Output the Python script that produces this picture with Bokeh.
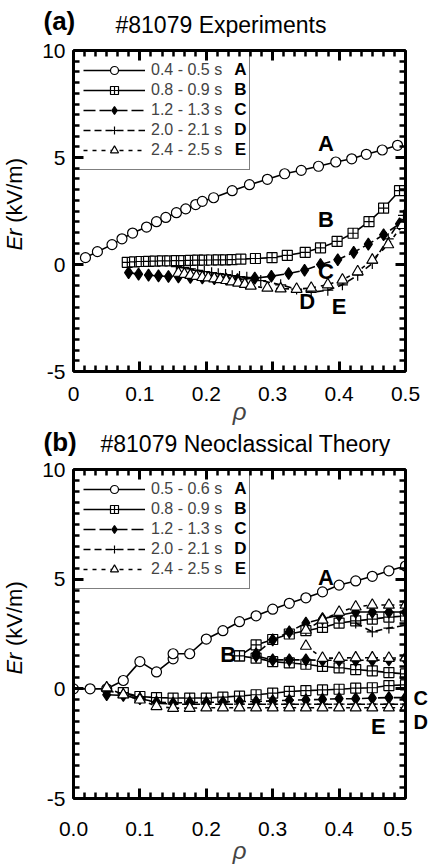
import math
from bokeh.plotting import figure
from bokeh.models import FixedTicker, LinearAxis, Range1d, Legend, LegendItem
from bokeh.layouts import column, row
from bokeh.core.properties import value
from bokeh.embed import file_html
from bokeh.resources import INLINE

FONT = "Liberation Sans"

# ---------------- data : panel (a) experiments ----------------
a_rho_A = [0.018, 0.036, 0.058, 0.073, 0.089, 0.110, 0.125, 0.139, 0.155, 0.169, 0.184, 0.194,
           0.211, 0.239, 0.265, 0.292, 0.318, 0.343, 0.369, 0.395, 0.419, 0.441, 0.465, 0.488]
a_er_A = [0.32, 0.60, 0.93, 1.20, 1.47, 1.75, 2.00, 2.20, 2.42, 2.60, 2.80, 2.95,
          3.12, 3.45, 3.73, 3.98, 4.24, 4.40, 4.59, 4.79, 4.94, 5.15, 5.35, 5.57]

a_rho_B = [0.081, 0.092, 0.102, 0.113, 0.123, 0.134, 0.145, 0.155, 0.166, 0.176, 0.187, 0.197,
           0.208, 0.218, 0.229, 0.239, 0.252, 0.274, 0.299, 0.322, 0.349, 0.372, 0.397, 0.421,
           0.445, 0.467, 0.491]
a_er_B = [0.10, 0.12, 0.14, 0.15, 0.16, 0.17, 0.17, 0.18, 0.18, 0.19, 0.20, 0.20,
          0.21, 0.22, 0.22, 0.23, 0.25, 0.28, 0.32, 0.43, 0.57, 0.78, 1.08, 1.46,
          2.00, 2.63, 3.45]

a_rho_C = [0.083, 0.098, 0.113, 0.128, 0.143, 0.158, 0.176, 0.194, 0.212, 0.230, 0.247,
           0.273, 0.298, 0.324, 0.348, 0.372, 0.398, 0.422, 0.444, 0.467, 0.491]
a_er_C = [-0.38, -0.45, -0.50, -0.53, -0.56, -0.58, -0.60, -0.63, -0.66, -0.68, -0.70,
          -0.64, -0.55, -0.42, -0.27, 0.00, 0.22, 0.57, 0.95, 1.39, 1.90]

a_rho_D = [0.155, 0.166, 0.176, 0.187, 0.197, 0.208, 0.218, 0.229, 0.239, 0.250, 0.261,
           0.282, 0.312, 0.336, 0.358, 0.383, 0.405, 0.428, 0.450, 0.474, 0.497]
a_er_D = [-0.10, -0.15, -0.20, -0.27, -0.33, -0.38, -0.43, -0.47, -0.52, -0.56, -0.60,
          -0.75, -0.95, -1.15, -1.30, -1.20, -0.95, -0.50, 0.05, 1.20, 2.30]

a_rho_E = [0.158, 0.167, 0.176, 0.185, 0.194, 0.203, 0.212, 0.221, 0.230, 0.239, 0.248,
           0.258, 0.267, 0.292, 0.312, 0.336, 0.358, 0.383, 0.405, 0.428, 0.450, 0.474, 0.495]
a_er_E = [-0.40, -0.45, -0.50, -0.55, -0.60, -0.62, -0.66, -0.70, -0.74, -0.80, -0.86,
          -0.92, -1.00, -1.10, -1.13, -1.15, -1.10, -0.94, -0.72, -0.33, 0.21, 0.93, 1.83]

# ---------------- data : panel (b) neoclassical theory ----------------
b_rho_A = [0.0, 0.025, 0.05, 0.075, 0.1, 0.125, 0.15, 0.15, 0.175, 0.2, 0.225, 0.25, 0.275,
           0.3, 0.325, 0.35, 0.375, 0.4, 0.425, 0.45, 0.475, 0.5]
b_er_A = [0.0, 0.0, 0.0, 0.38, 1.24, 0.77, 1.37, 1.60, 1.60, 2.27, 2.65, 3.06, 3.33,
          3.63, 3.90, 4.15, 4.42, 4.73, 4.92, 5.13, 5.38, 5.60]

b_rho_B_low = [0.075, 0.1, 0.125, 0.15, 0.175, 0.2, 0.225, 0.25, 0.275, 0.3, 0.325, 0.35,
               0.375, 0.4, 0.425, 0.45, 0.475, 0.5]
b_er_B_low = [-0.17, -0.35, -0.40, -0.42, -0.42, -0.42, -0.38, -0.33, -0.27, -0.20, -0.12,
              -0.08, -0.05, -0.02, 0.03, 0.05, 0.15, 0.18]
b_rho_B_mid = [0.25, 0.275, 0.3, 0.325, 0.35, 0.375, 0.4, 0.425, 0.45, 0.475, 0.5]
b_er_B_mid = [1.50, 1.40, 1.24, 1.18, 1.12, 1.02, 0.96, 0.88, 0.82, 0.74, 0.68]
b_rho_B_up = [0.25, 0.275, 0.3, 0.325, 0.35, 0.375, 0.4, 0.425, 0.45, 0.475, 0.5]
b_er_B_up = [1.50, 2.00, 2.25, 2.50, 2.65, 2.80, 3.00, 3.10, 3.18, 3.27, 3.32]

b_rho_C_low = [0.05, 0.075, 0.1, 0.125, 0.15, 0.175, 0.2, 0.225, 0.25, 0.275, 0.3, 0.325,
               0.35, 0.375, 0.4, 0.425, 0.45, 0.475, 0.5]
b_er_C_low = [-0.27, -0.30, -0.45, -0.60, -0.65, -0.62, -0.62, -0.60, -0.58, -0.58, -0.55,
              -0.52, -0.50, -0.48, -0.45, -0.45, -0.42, -0.40, -0.40]
b_rho_C_mid = [0.275, 0.3, 0.325, 0.35, 0.375, 0.4, 0.425, 0.45, 0.475, 0.5]
b_er_C_mid = [1.50, 1.32, 1.32, 1.32, 1.30, 1.30, 1.30, 1.30, 1.32, 1.35]
b_rho_C_up = [0.275, 0.3, 0.325, 0.35, 0.375, 0.4, 0.425, 0.45, 0.475, 0.5]
b_er_C_up = [1.60, 2.23, 2.60, 3.00, 3.20, 3.35, 3.50, 3.50, 3.50, 3.50]

b_rho_D_low = [0.05, 0.075, 0.1, 0.125, 0.15, 0.175, 0.2, 0.225, 0.25, 0.275, 0.3, 0.325,
               0.35, 0.375, 0.4, 0.425, 0.45, 0.475, 0.5]
b_er_D_low = [-0.10, -0.20, -0.40, -0.65, -0.70, -0.70, -0.70, -0.70, -0.70, -0.70, -0.70,
              -0.70, -0.70, -0.70, -0.70, -0.70, -0.70, -0.70, -0.70]
b_rho_D_up = [0.425, 0.45, 0.475, 0.5]
b_er_D_up = [3.00, 2.60, 2.77, 2.90]

b_rho_E_low = [0.05, 0.075, 0.1, 0.125, 0.15, 0.175, 0.2, 0.225, 0.25, 0.275, 0.3, 0.325,
               0.35, 0.375, 0.4, 0.425, 0.45, 0.475, 0.5]
b_er_E_low = [0.05, -0.27, -0.50, -0.80, -0.88, -0.88, -0.86, -0.86, -0.86, -0.86, -0.86,
              -0.86, -0.86, -0.86, -0.86, -0.86, -0.86, -0.86, -0.86]
b_rho_E_mid = [0.35, 0.375, 0.4, 0.425, 0.45, 0.475, 0.5]
b_er_E_mid = [1.95, 1.40, 1.40, 1.42, 1.42, 1.40, 1.42]
b_rho_E_up = [0.35, 0.375, 0.4, 0.425, 0.45, 0.475, 0.5]
b_er_E_up = [2.68, 3.14, 3.50, 3.74, 3.82, 3.82, 3.82]

# ---------------- texts ----------------
series_keys = ["A", "B", "C", "D", "E"]
legend_times_a = ["0.4 - 0.5 s", "0.8 - 0.9 s", "1.2 - 1.3 s", "2.0 - 2.1 s", "2.4 - 2.5 s"]
legend_times_b = ["0.5 - 0.6 s", "0.8 - 0.9 s", "1.2 - 1.3 s", "2.0 - 2.1 s", "2.4 - 2.5 s"]
x_ticks = [0, 0.1, 0.2, 0.3, 0.4, 0.5]
x_tick_labels_a = ["0", "0.1", "0.2", "0.3", "0.4", "0.5"]
x_tick_labels_b = ["0.0", "0.1", "0.2", "0.3", "0.4", "0.5"]
y_ticks = [-5, 0, 5, 10]
y_tick_labels = ["-5", "0", "5", "10"]
title_a = "#81079 Experiments"
title_b = "#81079 Neoclassical Theory"
y_label_ital = "Er"
y_label_unit = "(kV/m)"
x_label = "ρ"

# curve letter positions (data coordinates)
letters_a = {"A": (0.38, 5.66), "B": (0.38, 2.12), "C": (0.38, -0.33), "D": (0.352, -1.75), "E": (0.40, -1.97)}
letters_b_in = {"A": (0.38, 5.09), "B": (0.233, 1.55), "E": (0.459, -1.73)}
letters_b_out = {"C": -0.41, "D": -1.5}

STYLE = {
    "A": dict(marker="circle", fill="white", dash="solid", size=10),
    "B": dict(marker="square_cross", fill="white", dash="solid", size=10),
    "C": dict(marker="diamond", fill="black", dash="12 4", size=12),
    "D": dict(marker="cross", fill="black", dash="7 4", size=11),
    "E": dict(marker="triangle", fill="white", dash="4 5", size=11),
}
F = value(FONT)
W = 428          # total page width used
YLAB_W = 30      # width of the y-label strip
TOP = 13         # border above each plot frame (room for the "10" tick label)


def draw(p, key, branches):
    st = STYLE[key]
    first = None
    for rho, er in branches:
        lr = p.line(rho, er, line_color="black", line_width=1.6, line_dash=st["dash"])
        sr = p.scatter(rho, er, marker=st["marker"], size=st["size"], fill_color=st["fill"],
                       line_color="black", line_width=1.2)
        if first is None:
            first = [lr, sr]
    return first


def blank(width, height, xr, yr, top=0, bottom=0):
    p = figure(width=width, height=height, x_range=xr, y_range=yr, output_backend="svg",
               toolbar_location=None, x_axis_type=None, y_axis_type=None, title=None,
               min_border_left=0, min_border_right=0, min_border_top=top, min_border_bottom=bottom)
    p.outline_line_color = None
    p.grid.visible = False
    return p


def header(height, tag, tag_xy, title, title_xy):
    h = blank(W, height, Range1d(0, W), Range1d(height, 0))
    h.text(x=[tag_xy[0]], y=[tag_xy[1]], text=[tag], text_font=F, text_font_size="26px",
           text_font_style=value("bold"), text_baseline=value("middle"))
    h.text(x=[title_xy[0]], y=[title_xy[1]], text=[title], text_font=F, text_font_size="23px",
           text_baseline=value("middle"))
    return h


def make_main(width, height, bottom, right, xlabels, xstand, xlab_stand):
    p = figure(width=width, height=height, x_range=Range1d(0, 0.5), y_range=Range1d(-5, 10),
               output_backend="svg", toolbar_location=None, title=None,
               min_border_left=73 - YLAB_W, min_border_right=right,
               min_border_top=TOP, min_border_bottom=bottom)
    p.grid.visible = False
    p.outline_line_color = "black"
    p.outline_line_width = 2
    xt = FixedTicker(ticks=x_ticks, minor_ticks=[i / 60 for i in range(31) if i % 6 != 0])
    yt = FixedTicker(ticks=y_ticks, minor_ticks=[v / 2 for v in range(-10, 21) if v % 10 != 0])
    p.add_layout(LinearAxis(), "above")
    p.add_layout(LinearAxis(), "right")
    for ax in p.xaxis:
        ax.ticker = xt
    for ax in p.yaxis:
        ax.ticker = yt
    for ax in p.axis:
        ax.axis_line_width = 3
        ax.major_tick_in = 10
        ax.major_tick_out = 0
        ax.minor_tick_in = 6
        ax.minor_tick_out = 0
        ax.major_tick_line_width = 3
        ax.minor_tick_line_width = 2.5
        ax.major_label_text_font = FONT
        ax.major_label_text_font_size = "21px"
        ax.major_label_text_color = "black"
    for ax in (p.above[0], p.right[0]):
        ax.major_label_text_color = None
        ax.major_label_standoff = 0
    p.below[0].major_label_overrides = {t: s for t, s in zip(x_ticks, xlabels)}
    p.below[0].major_label_standoff = xstand
    p.below[0].axis_label = x_label
    p.below[0].axis_label_text_font = FONT
    p.below[0].axis_label_text_font_size = "24px"
    p.below[0].axis_label_text_font_style = "italic"
    p.below[0].axis_label_standoff = xlab_stand
    p.left[0].major_label_overrides = {t: s for t, s in zip(y_ticks, y_tick_labels)}
    p.left[0].major_label_standoff = 8
    return p


def ylab(height, yrange, bottom):
    q = blank(YLAB_W, height, Range1d(0, YLAB_W), yrange, TOP, bottom)
    q.text(x=[14], y=[0.65], text=[y_label_ital], angle=math.pi / 2, text_font=F,
           text_font_size="22px", text_font_style=value("italic"), text_align=value("left"),
           text_baseline=value("middle"))
    q.text(x=[14], y=[1.95], text=[y_label_unit], angle=math.pi / 2, text_font=F,
           text_font_size="22px", text_align=value("left"), text_baseline=value("middle"))
    return q


def finish(p, renderer_sets, times, letters):
    items = [LegendItem(label=t, renderers=r) for t, r in zip(times, renderer_sets)]
    leg = Legend(items=items, location="top_left", margin=0, padding=9, spacing=0,
                 glyph_width=62, glyph_height=20, label_height=20, label_width=89,
                 label_standoff=6, label_text_font=FONT, label_text_font_size="16px",
                 border_line_color="black", border_line_width=1.5, background_fill_alpha=0)
    p.add_layout(leg)
    # bold letters inside the legend box, one per row
    p.text(x=[0] * 5, y=[10] * 5, text=series_keys, x_offset=167,
           y_offset=[19 + 20 * i for i in range(5)], text_font=F, text_font_size="17px",
           text_font_style=value("bold"), text_align=value("center"), text_baseline=value("middle"))
    ks = list(letters.keys())
    p.text(x=[letters[k][0] for k in ks], y=[letters[k][1] for k in ks], text=ks, text_font=F,
           text_font_size="22px", text_font_style=value("bold"), text_align=value("center"),
           text_baseline=value("middle"))


# ---------------- panel (a) ----------------
head_a = header(37, "(a)", (43, 20), title_a, (115, 24))
pa = make_main(W - YLAB_W, 390, 49, 23, x_tick_labels_a, 15, -6)
ra = [draw(pa, "A", [(a_rho_A, a_er_A)]),
      draw(pa, "B", [(a_rho_B, a_er_B)]),
      draw(pa, "C", [(a_rho_C, a_er_C)]),
      draw(pa, "D", [(a_rho_D, a_er_D)]),
      draw(pa, "E", [(a_rho_E, a_er_E)])]
finish(pa, ra, legend_times_a, letters_a)
ya = ylab(390, pa.y_range, 49)

# ---------------- panel (b) ----------------
RL_W = 16
head_b = header(29, "(b)", (43, 14.5), title_b, (100, 16))
pb = make_main(W - YLAB_W - RL_W, 410, 67, 7, x_tick_labels_b, 23, -2)
rb = [draw(pb, "A", [(b_rho_A, b_er_A)]),
      draw(pb, "B", [(b_rho_B_low, b_er_B_low), (b_rho_B_mid, b_er_B_mid), (b_rho_B_up, b_er_B_up)]),
      draw(pb, "C", [(b_rho_C_low, b_er_C_low), (b_rho_C_mid, b_er_C_mid), (b_rho_C_up, b_er_C_up)]),
      draw(pb, "D", [(b_rho_D_low, b_er_D_low), (b_rho_D_up, b_er_D_up)]),
      draw(pb, "E", [(b_rho_E_low, b_er_E_low), (b_rho_E_mid, b_er_E_mid), (b_rho_E_up, b_er_E_up)])]
finish(pb, rb, legend_times_b, letters_b_in)
yb = ylab(410, pb.y_range, 67)
rl = blank(RL_W, 410, Range1d(0, RL_W), pb.y_range, TOP, 67)
rl.text(x=[1, 1], y=list(letters_b_out.values()), text=list(letters_b_out.keys()), text_font=F,
        text_font_size="20px", text_font_style=value("bold"), text_align=value("left"),
        text_baseline=value("middle"))

layout = column(head_a, row(ya, pa), head_b, row(yb, pb, rl), spacing=0)
open("out.html", "w").write(file_html(layout, INLINE))
